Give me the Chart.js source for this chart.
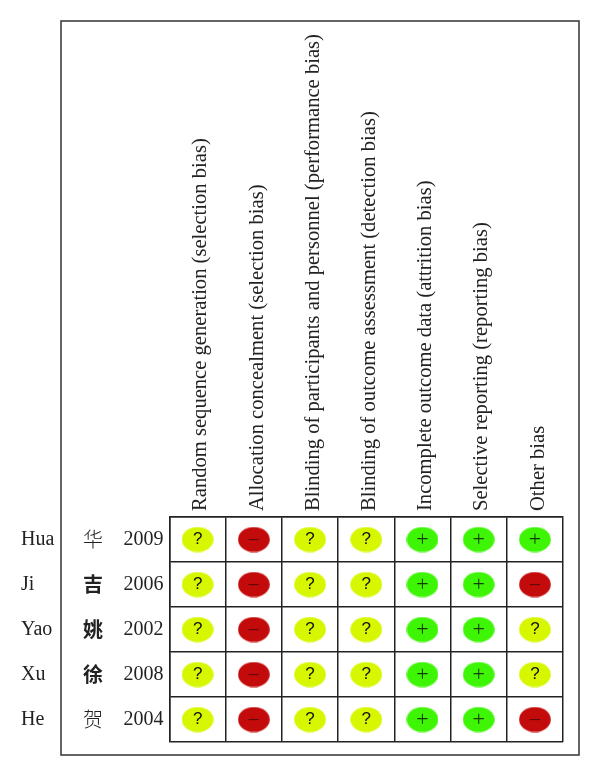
<!DOCTYPE html>
<html>
<head>
<meta charset="utf-8">
<style>
  html, body { margin: 0; padding: 0; background: #fff; }
  #wrap { width: 600px; height: 776px; position: relative; }
</style>
</head>
<body>
<div id="wrap"><canvas id="myChart" width="600" height="776"></canvas></div>
<script src="https://cdn.jsdelivr.net/npm/chart.js@4"></script>
<script>
// Risk of bias table
const domains = [
  "Random sequence generation (selection bias)",
  "Allocation concealment (selection bias)",
  "Blinding of participants and personnel (performance bias)",
  "Blinding of outcome assessment (detection bias)",
  "Incomplete outcome data (attrition bias)",
  "Selective reporting (reporting bias)",
  "Other bias",
];
const studies = ["Hua", "Ji", "Yao", "Xu", "He"];
const chineseNames = ["华", "吉", "姚", "徐", "贺"];
const years = ["2009", "2006", "2002", "2008", "2004"];

const hua2009 = ["?", "-", "?", "?", "+", "+", "+"];
const ji2006 = ["?", "-", "?", "?", "+", "+", "-"];
const yao2002 = ["?", "-", "?", "?", "+", "+", "?"];
const xu2008 = ["?", "-", "?", "?", "+", "+", "?"];
const he2004 = ["?", "-", "?", "?", "+", "+", "-"];
const judgements = [hua2009, ji2006, yao2002, xu2008, he2004];

const SERIF = "'Liberation Serif', serif";
const INK = "#222";

function ellipse(color) {
  const c = document.createElement("canvas");
  c.width = 32;
  c.height = 26;
  const g = c.getContext("2d");
  g.fillStyle = color;
  g.beginPath();
  g.ellipse(16, 13, 15.8, 12.6, 0, 0, Math.PI * 2);
  g.fill();
  return c;
}

// one dataset per judgement, points come from the table above
function pointsFor(mark) {
  const pts = [];
  judgements.forEach((row, r) => {
    row.forEach((v, c) => {
      if (v === mark) pts.push({ x: domains[c], y: years[r] });
    });
  });
  return pts;
}

const kinds = [
  { mark: "?", color: "#d6f700", text: "?", font: "17px 'Liberation Sans'", ink: "#111", shift: 0 },
  { mark: "-", color: "#c40b0b", text: "\u2212", font: "22px " + SERIF, ink: "#5a0a0a", shift: 2 },
  { mark: "+", color: "#3ef506", text: "+", font: "22px " + SERIF, ink: "#123c06", shift: 1 },
];

const symbols = {
  id: "symbols",
  afterDatasetsDraw(chart) {
    const g = chart.ctx;
    g.save();
    g.textAlign = "center";
    g.textBaseline = "middle";
    chart.data.datasets.forEach((ds, i) => {
      g.font = ds.symbolFont;
      g.fillStyle = ds.symbolInk;
      chart.getDatasetMeta(i).data.forEach((pt) => {
        g.fillText(ds.symbol, pt.x, pt.y + ds.symbolShift);
      });
    });
    g.restore();
  },
};

const frame = {
  id: "frame",
  beforeDraw(chart) {
    const g = chart.ctx;
    g.save();
    g.fillStyle = "#fff";
    g.fillRect(0, 0, chart.width, chart.height);
    g.strokeStyle = "#333";
    g.lineWidth = 1.5;
    g.strokeRect(61, 21, 518, 734);
    g.restore();
  },
};

function sideAxis(labels, weight, width, extraTicks) {
  return {
    type: "category",
    axis: "y",
    position: "left",
    labels: labels,
    offset: true,
    weight: weight,
    grid: { display: false },
    border: { display: false },
    afterFit(scale) { scale.width = width; },
    ticks: Object.assign({
      autoSkip: false,
      color: "#222",
      font: { family: SERIF, size: 20 },
    }, extraTicks),
  };
}

const yearAxis = sideAxis(years, 1, 46.5, { padding: 6 });
yearAxis.grid = { display: true, offset: true, color: INK, lineWidth: 1.5, drawTicks: false };
yearAxis.border = { display: true, color: INK, width: 1.5 };

new Chart(document.getElementById("myChart"), {
  type: "scatter",
  data: {
    datasets: kinds.map((k) => ({
      label: k.mark,
      symbol: k.text,
      symbolFont: k.font,
      symbolInk: k.ink,
      symbolShift: k.shift,
      data: pointsFor(k.mark),
      pointStyle: ellipse(k.color),
    })),
  },
  options: {
    responsive: false,
    animation: false,
    events: [],
    layout: { padding: { left: 21, right: 37, top: 0, bottom: 34 } },
    plugins: { legend: { display: false }, tooltip: { enabled: false } },
    scales: {
      x: {
        type: "category",
        position: "top",
        labels: domains,
        offset: true,
        afterFit(scale) { scale.height = 517; },
        grid: { offset: true, color: INK, lineWidth: 1.5, drawTicks: false },
        border: { display: true, color: INK, width: 1.5 },
        ticks: {
          autoSkip: false,
          minRotation: 90,
          maxRotation: 90,
          padding: 6,
          labelOffset: 28,
          color: "#222",
          font: { family: SERIF, size: 20.6 },
        },
      },
      y: yearAxis,
      yCn: sideAxis(chineseNames, 2, 40, {
        crossAlign: "far",
        font: (c) => ({
          family: "'Noto Sans CJK SC'",
          size: 20,
          weight: c.index === 0 || c.index === 4 ? "300" : "700",
        }),
      }),
      yName: sideAxis(studies, 3, 62, { crossAlign: "far" }),
    },
  },
  plugins: [frame, symbols],
});
</script>
</body>
</html>
